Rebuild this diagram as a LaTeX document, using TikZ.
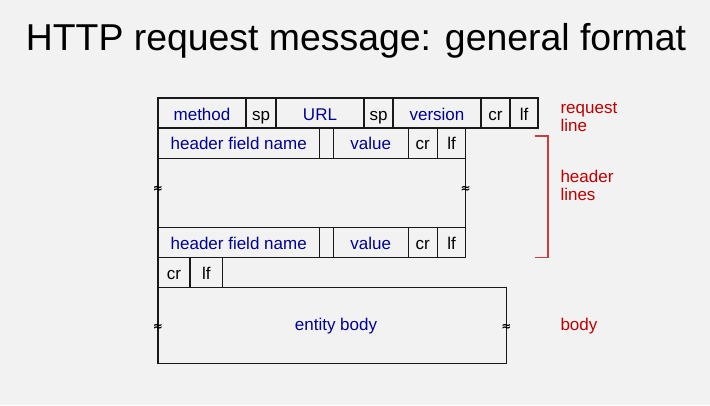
\documentclass[tikz,border=0pt]{standalone}
\usepackage{fontspec}
\setmainfont{Liberation Sans}
\newfontfamily\cutfont{DejaVu Sans}
\definecolor{slidegray}{HTML}{F2F2F2}
\definecolor{fieldblue}{RGB}{0,0,150}
\definecolor{notered}{RGB}{192,0,0}
\definecolor{bracketred}{RGB}{204,60,60}

\begin{document}
\begin{tikzpicture}[x=1pt,y=-1pt,
  cell/.style={draw=black!90,line width=1.2pt},
  fld/.style={anchor=base,text=fieldblue,font=\fontsize{17}{20}\selectfont},
  ctl/.style={anchor=base,text=black,font=\fontsize{17}{20}\selectfont},
  note/.style={anchor=base west,align=left,text=notered,font=\fontsize{17}{18.5}\selectfont},
  cut/.style={inner sep=0pt,font=\cutfont\bfseries\fontsize{12}{12}\selectfont}]
\fill[slidegray] (0,0) rectangle (710,405);
\useasboundingbox (0,0) rectangle (710,405);
\node[anchor=base,font=\fontsize{37.4}{40}\selectfont] (title) at (356,50) {HTTP request message: general format};

% request line
\draw[cell] (158,98) rectangle (538,128);
\foreach \x in {246,276,364,393,481,510} \draw[cell] (\x,98) -- (\x,128);
\node[fld] (method) at (202,120) {method};
\node[ctl] (spa) at (261,120) {sp};
\node[fld] (url) at (320,120) {URL};
\node[ctl] (spb) at (378.5,120) {sp};
\node[fld] (version) at (437,120) {version};
\node[ctl] (cra) at (495.5,120) {cr};
\node[ctl] (lfa) at (524,120) {lf};

% header lines
\draw[cell] (158,128) rectangle (465.7,158.3);
\draw[cell] (158,227.3) rectangle (465.7,257.7);
\foreach \x in {319.3,333.3,408.3,437.3} {
  \draw[cell] (\x,128) -- (\x,158.3);
  \draw[cell] (\x,227.3) -- (\x,257.7);
}
\draw[cell] (158,158.3) -- (158,227.3);
\draw[cell] (465.7,158.3) -- (465.7,227.3);
\node[cut] (cuthl) at (158,189) {≈};
\node[cut] (cuthr) at (465.7,189) {≈};
\node[fld] (namea) at (238.7,149) {header field name};
\node[fld] (valuea) at (370.8,149) {value};
\node[ctl] (crb) at (422.8,149) {cr};
\node[ctl] (lfb) at (451.5,149) {lf};
\node[fld] (nameb) at (238.7,249) {header field name};
\node[fld] (valueb) at (370.8,249) {value};
\node[ctl] (crc) at (422.8,249) {cr};
\node[ctl] (lfc) at (451.5,249) {lf};

% blank line + body
\draw[cell] (158,257.7) rectangle (222.7,287.7);
\draw[cell] (190,257.7) -- (190,287.7);
\node[ctl] (crd) at (174,279) {cr};
\node[ctl] (lfd) at (206.3,279) {lf};
\draw[cell] (158,287.7) rectangle (506.3,363.3);
\node[cut] (cutbl) at (158,327) {≈};
\node[cut] (cutbr) at (506.3,327) {≈};
\node[fld] (entity) at (336,330) {entity body};

% labels
\draw[bracketred,line width=1.1pt] (535,136) -- (548,136) -- (548,257.7) -- (535,257.7);
\node[note] (reqline) at (557,131.7) {request\\line};
\node[note] (hdrlines) at (557,200.7) {header\\lines};
\node[note] (bodylbl) at (557,330) {body};
\end{tikzpicture}
\end{document}
